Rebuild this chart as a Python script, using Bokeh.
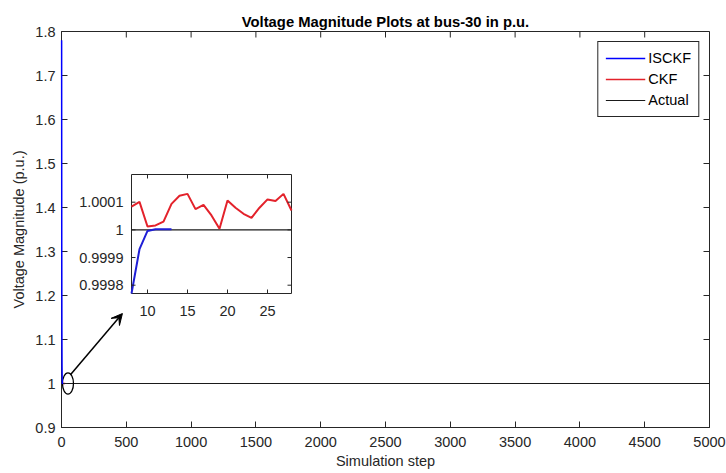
import numpy as np
from bokeh.plotting import figure
from bokeh.models import Range1d, FixedTicker, CustomJSTickFormatter, Arrow, VeeHead
from bokeh.core.properties import value
from bokeh.embed import file_html
from bokeh.resources import INLINE

# ---------------- data ----------------
isckf_steps = [1, 2, 3, 4, 5, 6, 7, 8, 9, 10, 11, 12, 13]
isckf_values = [1.78, 1.31, 1.12, 1.04, 1.012, 1.004, 0.9994,
                0.99977, 0.99993, 0.999996, 1.000002, 1.000002, 1.000002]

ckf_steps = [8, 9, 10, 11, 12, 13, 14, 15, 16, 17, 18, 19, 20,
             21, 22, 23, 24, 25, 26, 27, 28]
ckf_values = [1.000084, 1.000101, 1.000012, 1.000016, 1.000030, 1.000094,
              1.000123, 1.000130, 1.000075, 1.000090, 1.000052, 1.000004,
              1.000106, 1.000080, 1.000058, 1.000043, 1.000080, 1.000110,
              1.000104, 1.000130, 1.000070]

actual_steps = [0, 5000]
actual_values = [1.0, 1.0]

x_ticks = [0, 500, 1000, 1500, 2000, 2500, 3000, 3500, 4000, 4500, 5000]
y_ticks = [0.9, 1, 1.1, 1.2, 1.3, 1.4, 1.5, 1.6, 1.7, 1.8]
x_limits = (0, 5000)
y_limits = (0.9, 1.8)

inset_x_ticks = [10, 15, 20, 25]
inset_x_labels = ["10", "15", "20", "25"]
inset_y_ticks = [0.9998, 0.9999, 1.0, 1.0001]
inset_y_labels = ["0.9998", "0.9999", "1", "1.0001"]
inset_xlim = (8, 28)
inset_ylim = (0.99977, 1.0002)

zoom_mark_center = (50, 1.0)       # ellipse marking the zoomed region
zoom_mark_size = (85, 0.048)
arrow_from = (69, 1.02)
arrow_to = (470, 1.159)

# ---------------- layout (pixels) ----------------
W, H = 726, 473
ML, MR, MT, MB = 61, 17, 31, 46
FL, FR, FT, FB = ML, W - MR, MT, H - MB
IL, IR, IT, IB = 131, 291, 174, 293   # inset box in figure pixels

AX = "#262626"
FONT = "Liberation Sans"
FS = "14.5px"

ix_pp = (inset_xlim[1] - inset_xlim[0]) / (IR - IL)
iy_pp = (inset_ylim[1] - inset_ylim[0]) / (IB - IT)
ix_range = Range1d(inset_xlim[0] - (IL - FL) * ix_pp, inset_xlim[1] + (FR - IR) * ix_pp)
iy_range = Range1d(inset_ylim[0] - (FB - IB) * iy_pp, inset_ylim[1] + (IT - FT) * iy_pp)

p = figure(width=W, height=H, x_range=Range1d(*x_limits), y_range=Range1d(*y_limits),
           output_backend="svg", toolbar_location=None,
           min_border_left=ML, min_border_right=MR, min_border_top=MT, min_border_bottom=MB,
           title="Voltage Magnitude Plots at bus-30 in p.u.")
p.extra_x_ranges = {"ix": ix_range}
p.extra_y_ranges = {"iy": iy_range}

p.grid.visible = False
p.background_fill_color = "white"
p.border_fill_color = "white"
p.outline_line_color = AX
p.outline_line_width = 1
p.outline_line_alpha = 1

p.title.align = "center"
p.title.text_font = FONT
p.title.text_font_size = "14.8px"
p.title.text_font_style = "bold"
p.title.text_color = "black"
p.title.standoff = 3

p.xaxis.ticker = FixedTicker(ticks=x_ticks)
p.yaxis.ticker = FixedTicker(ticks=y_ticks)
p.yaxis.formatter = CustomJSTickFormatter(code="return String(tick);")
for ax in p.axis:
    ax.major_tick_in = 6
    ax.major_tick_out = 0
    ax.minor_tick_in = 0
    ax.minor_tick_out = 0
    ax.axis_line_color = AX
    ax.major_tick_line_color = AX
    ax.major_label_text_font = FONT
    ax.major_label_text_font_size = FS
    ax.major_label_text_color = AX
    ax.axis_label_text_font = FONT
    ax.axis_label_text_font_size = FS
    ax.axis_label_text_font_style = "normal"
    ax.axis_label_text_color = AX
p.xaxis.axis_label = "Simulation step"
p.yaxis.axis_label = "Voltage Magnitude (p.u.)"
p.xaxis.major_label_standoff = 9
p.xaxis.axis_label_standoff = 3
p.yaxis.major_label_standoff = 6
p.yaxis.axis_label_standoff = 5

# top / right inward ticks (box)
p.ray(x=x_ticks, y=[y_limits[1]] * len(x_ticks), length=6, length_units="screen",
      angle=-np.pi / 2, line_color=AX, line_width=1)
p.ray(x=[x_limits[1]] * len(y_ticks), y=y_ticks, length=6, length_units="screen",
      angle=np.pi, line_color=AX, line_width=1)

# main lines
p.line(isckf_steps, isckf_values, line_color="#0000ff", line_width=1.5,
       legend_label="ISCKF", level="overlay")
p.line(ckf_steps, ckf_values, line_color="#e3222b", line_width=1.5, legend_label="CKF")
p.line(actual_steps, actual_values, line_color="#1a1a1a", line_width=1, legend_label="Actual")

# zoom marker + arrow
p.ellipse(x=[zoom_mark_center[0]], y=[zoom_mark_center[1]], width=zoom_mark_size[0],
          height=zoom_mark_size[1], fill_color=None, line_color="black", line_width=1.3)
p.add_layout(Arrow(end=VeeHead(size=11, fill_color="black", line_color="black", line_width=1),
                   x_start=arrow_from[0], y_start=arrow_from[1],
                   x_end=arrow_to[0], y_end=arrow_to[1],
                   line_color="black", line_width=1.5))

# ---------------- inset ----------------
def clip_x(xs, ys, lo, hi):
    xs = np.asarray(xs, dtype=float)
    ys = np.asarray(ys, dtype=float)
    lo2, hi2 = max(lo, xs.min()), min(hi, xs.max())
    grid = sorted(set([lo2, hi2] + [x for x in xs if lo2 <= x <= hi2]))
    return list(grid), list(np.interp(grid, xs, ys))

kw = dict(x_range_name="ix", y_range_name="iy")
p.quad(left=[inset_xlim[0]], right=[inset_xlim[1]], bottom=[inset_ylim[0]], top=[inset_ylim[1]],
       fill_color="white", line_color=AX, line_width=1, **kw)

ax_, ay_ = clip_x(actual_steps, actual_values, *inset_xlim)
p.line(ax_, ay_, line_color="#1a1a1a", line_width=1.3, **kw)
cx_, cy_ = clip_x(ckf_steps, ckf_values, *inset_xlim)
p.line(cx_, cy_, line_color="#e3222b", line_width=2, **kw)
bx_, by_ = clip_x(isckf_steps, isckf_values, *inset_xlim)
p.line(bx_, by_, line_color="#1f1fd6", line_width=2, **kw)

nx, ny = len(inset_x_ticks), len(inset_y_ticks)
p.ray(x=inset_x_ticks, y=[inset_ylim[0]] * nx, length=4, length_units="screen",
      angle=np.pi / 2, line_color=AX, **kw)
p.ray(x=inset_x_ticks, y=[inset_ylim[1]] * nx, length=4, length_units="screen",
      angle=-np.pi / 2, line_color=AX, **kw)
p.ray(x=[inset_xlim[0]] * ny, y=inset_y_ticks, length=4, length_units="screen",
      angle=0, line_color=AX, **kw)
p.ray(x=[inset_xlim[1]] * ny, y=inset_y_ticks, length=4, length_units="screen",
      angle=np.pi, line_color=AX, **kw)

p.text(x=inset_x_ticks, y=[inset_ylim[0]] * nx, text=inset_x_labels,
       text_font=value(FONT), text_font_size=value(FS), text_color=AX,
       text_align="center", text_baseline="top", y_offset=12, **kw)
p.text(x=[inset_xlim[0]] * ny, y=inset_y_ticks, text=inset_y_labels,
       text_font=value(FONT), text_font_size=value(FS), text_color=AX,
       text_align="right", text_baseline="middle", x_offset=-8, **kw)

# legend
lg = p.legend[0]
lg.location = "top_right"
lg.margin = 10
lg.padding = 7
lg.spacing = 3
lg.glyph_width = 40
lg.glyph_height = 18
lg.label_height = 18
lg.label_standoff = 3
lg.border_line_color = AX
lg.border_line_width = 1
lg.border_line_alpha = 1
lg.background_fill_alpha = 1
lg.label_text_font = FONT
lg.label_text_font_size = FS
lg.label_text_color = "black"

open("out.html", "w").write(file_html(p, INLINE))
